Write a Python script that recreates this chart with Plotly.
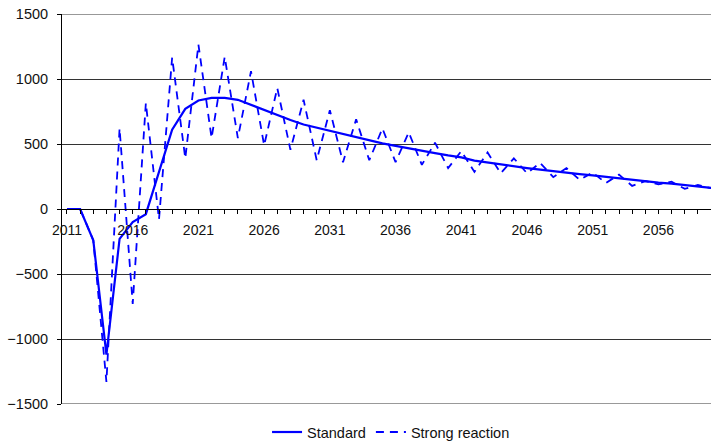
import plotly.graph_objects as go

years = list(range(2011, 2061))

standard = [
    0, 0, -240, -1120, -230, -100, -40, 290, 610, 770,
    835, 855, 855, 840, 800, 760, 720, 685, 650, 625,
    600, 575, 555, 530, 505, 485, 465, 447, 430, 412,
    397, 372, 357, 342, 328, 315, 303, 290, 278, 268,
    258, 246, 234, 222, 212, 203, 195, 185, 175, 162,
]

strong_reaction = [
    0, 0, -240, -1330, 620, -730, 815, -80, 1165, 390,
    1265, 545, 1170, 545, 1060, 490, 930, 455, 840, 375,
    760, 360, 690, 375, 620, 360, 590, 340, 510, 315,
    445, 285, 435, 275, 390, 275, 355, 245, 315, 225,
    280, 200, 265, 178, 215, 190, 210, 155, 185, 160,
]

x_tick_vals = [2011, 2016, 2021, 2026, 2031, 2036, 2041, 2046, 2051, 2056]
x_tick_text = ["2011", "2016", "2021", "2026", "2031", "2036", "2041", "2046", "2051", "2056"]
y_tick_vals = [-1500, -1000, -500, 0, 500, 1000, 1500]

FONT = "Liberation Sans, Arial, sans-serif"
GRID = "#333333"

fig = go.Figure()
fig.add_trace(go.Scatter(
    x=years, y=standard, name="Standard", mode="lines",
    line=dict(color="#0000FF", width=2.2),
))
fig.add_trace(go.Scatter(
    x=years, y=strong_reaction, name="Strong reaction", mode="lines",
    line=dict(color="#0000FF", width=1.8, dash="8px,6px"),
))

# edge gridlines (plotly drops gridlines on the range edges)
for v in (y_tick_vals[0], y_tick_vals[-1]):
    fig.add_hline(y=v, line=dict(color=GRID, width=1), layer="below")

fig.update_layout(
    width=711, height=443,
    margin=dict(l=62, r=0, t=14, b=39, autoexpand=False),
    paper_bgcolor="white", plot_bgcolor="white",
    font=dict(family=FONT, size=14.5, color="#111111"),
    showlegend=True,
    hovermode=False,
    legend=dict(
        orientation="h", x=0.507, xanchor="center", y=-0.072, yanchor="middle",
        font=dict(family=FONT, size=14.5, color="#111111"),
        tracegroupgap=0,
    ),
    xaxis=dict(
        range=[2010.62, 2060.0],
        anchor="free", position=0.5,
        automargin=False,
        showgrid=False, zeroline=False,
        showline=True, linecolor="#000000", linewidth=1,
        tickmode="array", tickvals=x_tick_vals, ticktext=x_tick_text,
        ticks="outside", ticklen=4, tickcolor="#000000",
        tickfont=dict(size=14),
        ticklabelstandoff=4,
        minor=dict(ticks="outside", tickmode="linear", tick0=2011, dtick=1,
                   ticklen=4, tickcolor="#000000", showgrid=False),
    ),
    yaxis=dict(
        range=[-1500, 1500],
        automargin=False,
        tickmode="array", tickvals=y_tick_vals,
        tickfont=dict(size=14.5),
        ticklabeloverflow="allow",
        showgrid=True, gridcolor=GRID, gridwidth=1,
        zeroline=False,
        showline=True, linecolor="#000000", linewidth=1,
        ticks="outside", ticklen=4, tickcolor="#000000",
        ticklabelstandoff=6,
    ),
)

fig.write_html(
    "out.html",
    config={"displayModeBar": False},
    post_script="document.body.style.margin='0';document.body.style.overflow='hidden';",
)
